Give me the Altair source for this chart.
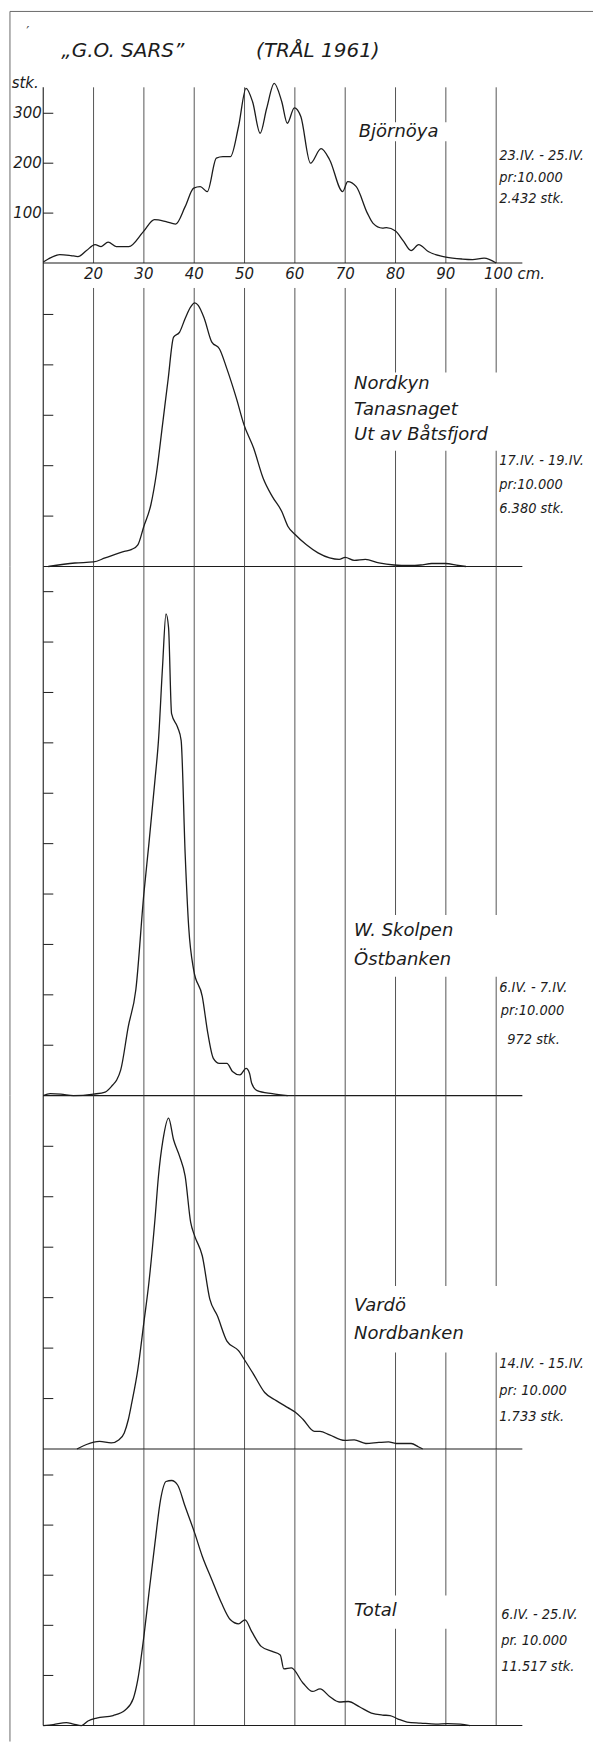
import altair as alt
import pandas as pd

# ---------------- data ----------------
# length (cm) and count per 10.000 for each station
len_bjornoya = [10, 11, 13.3, 15.5, 16.9, 18.6, 20.3, 21.5, 22.9, 24.5, 27, 29.9, 32.1, 34.4, 36.3,
                38.2, 39.9, 41.2, 42.6, 44.4, 45.7, 47.2, 48.8, 50.3, 51.6, 53.1, 54.4, 55.9, 57.4,
                58.5, 59.9, 61.2, 63.1, 65.2, 66.9, 69.5, 70.5, 72.2, 74.4, 75.5, 77.4, 78.2, 80,
                81.5, 83.1, 84.6, 86.5, 90, 93.3, 95.3, 97.6, 100]
val_bjornoya = [2, 8, 17, 15, 13, 25, 37, 33, 42, 33, 33, 63, 87, 83, 78,
                113, 150, 153, 143, 210, 213, 213, 273, 350, 323, 260, 310, 360, 323,
                280, 311, 293, 200, 229, 207, 143, 163, 153, 100, 80, 70, 71, 64,
                45, 25, 37, 23, 12, 8, 7, 10, 0]

len_nordkyn = [11, 16.3, 20, 22.3, 26.1, 27.6, 28.8, 30, 31.4, 32.5, 33.7, 34.8, 35.9, 37.1, 38.2,
               39.3, 40.1, 40.8, 42, 43.5, 45, 46.5, 48.4, 49.9, 51.8, 53.7, 55.5, 57.4, 58.6,
               60.1, 62.3, 64.6, 66.9, 68.8, 70, 71.8, 74, 76.7, 79.7, 82.7, 85, 87.2, 89.9,
               92.5, 94]
val_nordkyn = [0, 7, 9, 17, 30, 34, 43, 80, 123, 185, 281, 370, 455, 465, 492,
               515, 523, 518, 492, 445, 432, 392, 333, 281, 235, 175, 139, 109, 80,
               63, 43, 27, 17, 14, 18, 12, 14, 7, 3, 2, 3, 6, 6,
               2, 0]

len_skolpen = [10, 11.4, 13.5, 16, 20, 22.3, 23.8, 24.6, 25.4, 26.9, 28.4, 30, 31, 32.2, 32.9,
               33.7, 34.4, 34.9, 35.5, 36.7, 37.4, 38.2, 38.9, 39.9, 41.6, 42.7, 43.8, 45, 46.5,
               47.6, 49.1, 50.3, 51, 51.4, 52.5, 55.5, 58.6]
val_skolpen = [0, 4, 3, 0, 3, 7, 21, 31, 51, 137, 210, 401, 500, 626, 705,
               850, 956, 929, 758, 731, 705, 480, 335, 249, 197, 124, 74, 64, 64,
               48, 41, 54, 44, 25, 10, 4, 0]

len_vardo = [16.7, 18.6, 21.2, 23.5, 25, 26.1, 26.9, 27.6, 28.8, 30, 31, 32.2, 32.9, 33.8, 34.9,
             35.9, 37.1, 38.2, 39.3, 40.1, 41.6, 43.1, 44.6, 46.5, 48.8, 50.3, 51.8, 54, 56.3,
             58.6, 60.1, 61.6, 63.9, 65, 66.9, 69.9, 71.8, 74.1, 76.7, 78.6, 80.1, 83.1, 84.6,
             85.4]
val_vardo = [0, 9, 15, 12, 18, 32, 58, 92, 158, 251, 330, 455, 541, 613, 656,
             613, 580, 541, 449, 422, 383, 297, 264, 214, 195, 172, 148, 112, 96,
             82, 73, 59, 35, 35, 28, 17, 18, 11, 13, 14, 11, 11, 4,
             0]

len_total = [10, 12, 14.6, 16, 17.6, 18.9, 20.6, 23.9, 26.3, 27.9, 28.8, 30, 31, 32.2, 33.3,
             34.4, 35.5, 36.7, 38.2, 40.1, 41.6, 43.5, 45.4, 47.2, 48.8, 50.1, 51.4, 53.3, 55.5,
             57.1, 57.8, 59.3, 61.6, 63.5, 65, 66.9, 68.8, 70.6, 72.9, 75.2, 77.4, 78.9, 80.5,
             82.3, 85, 88, 90.3, 92.9, 94.8]
val_total = [0, 2, 6, 3, 0, 9, 15, 20, 31, 54, 92, 178, 264, 364, 450,
             487, 489, 480, 437, 384, 338, 291, 245, 211, 203, 211, 188, 158, 148,
             141, 113, 115, 85, 68, 73, 58, 47, 48, 37, 25, 21, 20, 13,
             7, 5, 3, 4, 3, 0]

grid_cm = [20, 30, 40, 50, 60, 70, 80, 90, 100]
x_tick_labels = ["20", "30", "40", "50", "60", "70", "80", "90"]
y_tick_labels = ["100", "200", "300"]

title_left = "\u201eG.O. SARS\u201d"
title_right = "(TR\u00c5L 1961)"

names = [["Bj\u00f6rn\u00f6ya"],
         ["Nordkyn", "Tanasnaget", "Ut av B\u00e5tsfjord"],
         ["W. Skolpen", "\u00d6stbanken"],
         ["Vard\u00f6", "Nordbanken"],
         ["Total"]]
dates = [["23.IV. - 25.IV.", "pr:10.000", "2.432 stk."],
         ["17.IV. - 19.IV.", "pr:10.000", "6.380 stk."],
         ["6.IV. - 7.IV.", "pr:10.000", "972 stk."],
         ["14.IV. - 15.IV.", "pr: 10.000", "1.733 stk."],
         ["6.IV. - 25.IV.", "pr. 10.000", "11.517 stk."]]

# ---------------- layout (positions in data units) ----------------
X0, X1 = 1.41, 119.24          # x-domain covering the whole page width
FRAME_X = 3.39
AXIS_END = 105.2
TICK_LEN = 12

panels = [
    dict(lens=len_bjornoya, vals=val_bjornoya, lo=-50, hi=524, h=287, top=352,
         ticks=[100, 200, 300], name_x=72.7, name_y=[262.6],
         box=(71.3, 93.5, 244, 282), date_x=[100.6] * 3, date_y=[214, 170.6, 127.4]),
    dict(lens=len_nordkyn, vals=val_nordkyn, lo=0, hi=552.5, h=279, top=552.5,
         ticks=[100, 200, 300, 400, 500], name_x=71.75, name_y=[363, 310.3, 260.8],
         box=(71.3, 101.6, 229.7, 384.8), date_x=[100.6] * 3, date_y=[208.5, 161.8, 114.3]),
    dict(lens=len_skolpen, vals=val_skolpen, lo=0, hi=1049.9, h=530, top=1049.9,
         ticks=[100 * k for k in range(1, 11)], name_x=71.75, name_y=[327.5, 269.4],
         box=(71.3, 101.6, 235.7, 358.6), date_x=[100.6, 100.9, 102.2], date_y=[214.5, 167, 110.9]),
    dict(lens=len_vardo, vals=val_vardo, lo=0, hi=700.4, h=354, top=700.4,
         ticks=[100 * k for k in range(1, 7)], name_x=71.75, name_y=[283.5, 227.5],
         box=(71.3, 101.6, 191.3, 323), date_x=[100.6] * 3, date_y=[168.2, 115.4, 62.7]),
    dict(lens=len_total, vals=val_total, lo=-31.9, hi=551.8, h=293, top=551.8,
         ticks=[100, 200, 300, 400, 500], name_x=71.75, name_y=[227.7],
         box=(71.3, 99.0, 193.2, 259.6), date_x=[101.0] * 3, date_y=[219.7, 167.9, 116.9]),
]

INK = "#1c1c1c"
GRID = "#555555"
LOC_FONT = "DejaVu Sans"
DATE_FONT = "Liberation Sans Narrow, DejaVu Sans Condensed, Liberation Sans"


def X(field="x"):
    return alt.X(f"{field}:Q", scale=alt.Scale(domain=[X0, X1], nice=False, zero=False), axis=None)


def Y(lo, hi, field="y"):
    return alt.Y(f"{field}:Q", scale=alt.Scale(domain=[lo, hi], nice=False, zero=False), axis=None)


def build(i, p):
    lo, hi = p["lo"], p["hi"]
    layers = []
    # vertical grid lines
    g = pd.DataFrame({"x": grid_cm, "y": [0] * len(grid_cm), "y2": [p["top"]] * len(grid_cm)})
    layers.append(alt.Chart(g).mark_rule(color=GRID, strokeWidth=1).encode(
        x=X(), y=Y(lo, hi), y2="y2:Q"))
    # left axis line
    ax_lo = lo if i == 0 else 0
    a = pd.DataFrame({"x": [10], "y": [ax_lo], "y2": [p["top"] if i == 0 else hi]})
    layers.append(alt.Chart(a).mark_rule(color=INK, strokeWidth=1.1).encode(
        x=X(), y=Y(lo, hi), y2="y2:Q"))
    # frame line on the left of the page
    fr_hi = 504 if i == 0 else hi
    f = pd.DataFrame({"x": [FRAME_X], "y": [lo], "y2": [fr_hi]})
    layers.append(alt.Chart(f).mark_rule(color="#6a6a6a", strokeWidth=1).encode(
        x=X(), y=Y(lo, hi), y2="y2:Q"))
    if i == 0:
        ft = pd.DataFrame({"x": [FRAME_X], "x2": [X1], "y": [504]})
        layers.append(alt.Chart(ft).mark_rule(color="#6a6a6a", strokeWidth=1).encode(
            x=X(), x2="x2:Q", y=Y(lo, hi)))
    # inward ticks
    t = pd.DataFrame({"x": [10] * len(p["ticks"]), "x2": [TICK_LEN] * len(p["ticks"]), "y": p["ticks"]})
    layers.append(alt.Chart(t).mark_rule(color=INK, strokeWidth=1).encode(
        x=X(), x2="x2:Q", y=Y(lo, hi)))
    # baseline
    b = pd.DataFrame({"x": [10], "x2": [AXIS_END], "y": [0]})
    layers.append(alt.Chart(b).mark_rule(color=INK, strokeWidth=1.1).encode(
        x=X(), x2="x2:Q", y=Y(lo, hi)))
    # white patch behind the station names (breaks the grid lines)
    bx = p["box"]
    r = pd.DataFrame({"x": [bx[0]], "x2": [bx[1]], "y": [bx[2]], "y2": [bx[3]]})
    layers.append(alt.Chart(r).mark_rect(color="white").encode(
        x=X(), x2="x2:Q", y=Y(lo, hi), y2="y2:Q"))
    # the curve
    c = pd.DataFrame({"x": p["lens"], "y": p["vals"]})
    layers.append(alt.Chart(c).mark_line(color=INK, strokeWidth=1.3, interpolate="monotone").encode(
        x=X(), y=Y(lo, hi)))
    # station names
    n = pd.DataFrame({"x": [p["name_x"]] * len(names[i]), "y": p["name_y"], "t": names[i]})
    layers.append(alt.Chart(n).mark_text(align="left", baseline="middle", font=LOC_FONT,
                                         fontStyle="italic", fontSize=18, color=INK).encode(
        x=X(), y=Y(lo, hi), text="t:N"))
    # dates / sample sizes
    d = pd.DataFrame({"x": p["date_x"], "y": p["date_y"], "t": dates[i]})
    layers.append(alt.Chart(d).mark_text(align="left", baseline="middle", font=DATE_FONT,
                                         fontStyle="italic", fontSize=14.5, color=INK).encode(
        x=X(), y=Y(lo, hi), text="t:N"))
    if i == 0:
        # x tick labels
        xl = pd.DataFrame({"x": grid_cm[:-1], "y": [-22.6] * 8, "t": x_tick_labels})
        layers.append(alt.Chart(xl).mark_text(align="center", baseline="middle", font=LOC_FONT,
                                              fontStyle="italic", fontSize=15, color=INK).encode(
            x=X(), y=Y(lo, hi), text="t:N"))
        xl2 = pd.DataFrame({"x": [97.6], "y": [-22.6], "t": ["100 cm."]})
        layers.append(alt.Chart(xl2).mark_text(align="left", baseline="middle", font=LOC_FONT,
                                               fontStyle="italic", fontSize=15, color=INK).encode(
            x=X(), y=Y(lo, hi), text="t:N"))
        # y tick labels
        yl = pd.DataFrame({"x": [9.7] * 3, "y": p["ticks"], "t": y_tick_labels})
        layers.append(alt.Chart(yl).mark_text(align="right", baseline="middle", font=LOC_FONT,
                                              fontStyle="italic", fontSize=15, color=INK).encode(
            x=X(), y=Y(lo, hi), text="t:N"))
        # unit and titles
        tt = pd.DataFrame({"x": [3.73, 13.6, 52.3], "y": [360.6, 424, 424],
                           "t": ["stk.", title_left, title_right],
                           "s": [15, 20, 20]})
        layers.append(alt.Chart(tt).mark_text(align="left", baseline="middle", font=LOC_FONT,
                                              fontStyle="italic", color=INK).encode(
            x=X(), y=Y(lo, hi), text="t:N", size=alt.Size("s:Q", scale=None, legend=None)))
        sm = pd.DataFrame({"x": [6.96], "y": [462], "t": ["\u2032"]})
        layers.append(alt.Chart(sm).mark_text(align="center", baseline="middle", font=LOC_FONT,
                                              fontSize=14, color="#444444").encode(
            x=X(), y=Y(lo, hi), text="t:N"))
    return alt.layer(*layers).properties(width=594, height=p["h"])


chart = alt.vconcat(*[build(i, p) for i, p in enumerate(panels)], spacing=0, bounds="flush").properties(
    padding={"left": 0, "top": 0, "right": 0, "bottom": 0}, background="white"
).configure_view(stroke=None)

chart.save("out.html", embed_options={"renderer": "svg", "actions": False})
